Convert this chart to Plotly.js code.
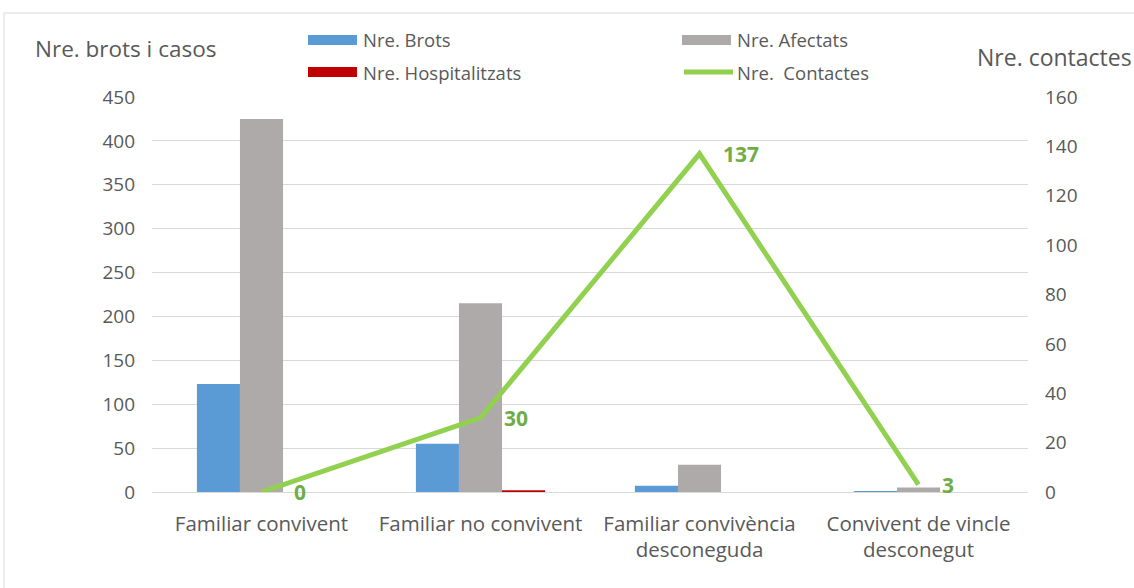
<!DOCTYPE html>
<html>
<head>
<meta charset="utf-8">
<script src="https://cdn.plot.ly/plotly-3.0.1.min.js"></script>
<style>
html,body{margin:0;padding:0;background:#fff;}
#chart{width:1134px;height:588px;}
</style>
</head>
<body>
<div id="chart"></div>
<script>
const categories = ["Familiar convivent", "Familiar no convivent", "Familiar convivència<br>desconeguda", "Convivent de vincle<br>desconegut"];
const seriesNames = ["Nre. Brots", "Nre. Afectats", "Nre. Hospitalitzats", "Nre.  Contactes"];
const brots = [123, 55, 7, 1];
const afectats = [425, 215, 31, 5];
const hospitalitzats = [0, 2, 0, 0];
const contactes = [0, 30, 137, 3];

const FONT = "Open Sans, sans-serif";
const TICK = "#595959";
const COLORS = ["#5b9bd5", "#aeaaaa", "#c00000", "#92d050"];

// plot area in pixels
const PL = 152, PR = 1028, PT = 97, PB = 492;
const px = x => (x - PL) / (PR - PL);
const py = y => (PB - y) / (PB - PT);

const traces = [
  {type: "bar", name: seriesNames[0], x: categories, y: brots, marker: {color: COLORS[0]}, yaxis: "y"},
  {type: "bar", name: seriesNames[1], x: categories, y: afectats, marker: {color: COLORS[1]}, yaxis: "y"},
  {type: "bar", name: seriesNames[2], x: categories, y: hospitalitzats, marker: {color: COLORS[2]}, yaxis: "y"},
  {type: "scatter", mode: "lines", name: seriesNames[3], x: categories, y: contactes, yaxis: "y2",
   line: {color: COLORS[3], width: 5}}
];

const annotations = contactes.map((v, i) => ({
  x: categories[i], y: v, xref: "x", yref: "y2", text: "<b>" + v + "</b>",
  showarrow: false, xanchor: "left", yanchor: "middle", xshift: i === 0 ? 30 : 21,
  font: {family: FONT, size: 21, color: "#70ad47"}
}));
annotations.push({
  xref: "paper", yref: "paper", x: px(33), y: py(48), xanchor: "left", yanchor: "middle",
  text: "Nre. brots i casos", showarrow: false, font: {family: FONT, size: 22.5, color: TICK}
});
annotations.push({
  xref: "paper", yref: "paper", x: px(975), y: py(57), xanchor: "left", yanchor: "middle",
  text: "Nre. contactes", showarrow: false, font: {family: FONT, size: 23, color: TICK}
});

// legend (drawn manually to match the swatch shapes)
const legendPos = [[308, 40], [682, 40], [308, 72], [682, 72]];
const shapes = [
  {type: "line", xref: "paper", yref: "paper", x0: px(4), x1: px(1200), y0: py(13), y1: py(13),
   line: {color: "#d9d9d9", width: 1}},
  {type: "line", xref: "paper", yref: "paper", x0: px(4), x1: px(4), y0: py(13), y1: py(700),
   line: {color: "#d9d9d9", width: 1}}
];
legendPos.forEach((p, i) => {
  if (i < 3) {
    shapes.push({type: "rect", xref: "paper", yref: "paper", x0: px(p[0]), x1: px(p[0] + 49),
      y0: py(p[1] - 5), y1: py(p[1] + 5), fillcolor: COLORS[i], line: {width: 0}});
  } else {
    shapes.push({type: "line", xref: "paper", yref: "paper", x0: px(p[0] + 2), x1: px(p[0] + 51),
      y0: py(p[1]), y1: py(p[1]), line: {color: COLORS[i], width: 5}});
  }
  annotations.push({xref: "paper", yref: "paper", x: px(p[0] + 53), y: py(p[1]), xanchor: "left",
    yanchor: "middle", text: seriesNames[i], showarrow: false,
    font: {family: FONT, size: 18.5, color: TICK}});
});

const layout = {
  width: 1134, height: 588,
  margin: {l: PL, r: 1134 - PR, t: PT, b: 588 - PB, autoexpand: false},
  paper_bgcolor: "#ffffff", plot_bgcolor: "#ffffff",
  font: {family: FONT, color: TICK, size: 16},
  barmode: "group", bargap: 0.41, bargroupgap: 0,
  showlegend: false,
  xaxis: {type: "category", showgrid: false, showline: true, linecolor: "#d9d9d9", linewidth: 1,
    ticks: "", tickfont: {family: FONT, size: 20.5, color: TICK}, fixedrange: true, ticklabelstandoff: 13},
  yaxis: {range: [0, 450], dtick: 50, showgrid: true, gridcolor: "#d9d9d9", zeroline: false,
    showline: false, ticks: "", tickfont: {family: FONT, size: 19, color: TICK}, ticklabelstandoff: 16},
  yaxis2: {range: [0, 160], dtick: 20, overlaying: "y", side: "right", showgrid: false, zeroline: false,
    showline: false, ticks: "", tickfont: {family: FONT, size: 19, color: TICK}, ticklabelstandoff: 16},
  annotations: annotations,
  shapes: shapes
};

Plotly.newPlot("chart", traces, layout, {displayModeBar: false, staticPlot: true});
</script>
</body>
</html>
